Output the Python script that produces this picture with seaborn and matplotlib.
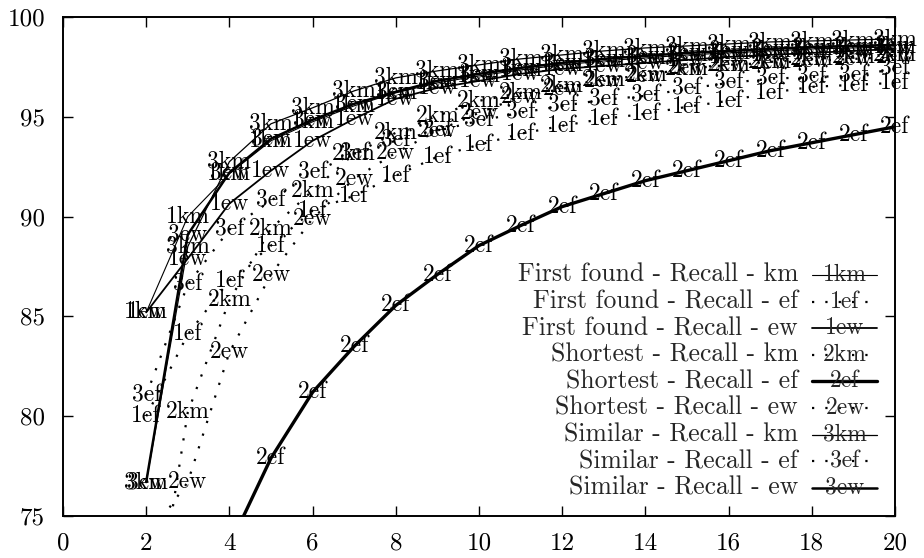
import matplotlib
matplotlib.use("Agg")
import matplotlib.pyplot as plt
import pandas as pd
import seaborn as sns

# Number of candidates considered (x axis)
steps = list(range(2, 21))
steps_short_ef = list(range(4, 21))

# Recall (%) per method and clustering variant
first_km = [85.2, 90.0, 92.15, 93.8, 94.75, 95.55, 96.2, 96.7, 97.05, 97.35,
            97.6, 97.8, 97.95, 98.1, 98.2, 98.3, 98.4, 98.45, 98.5]
first_ef = [80.0, 84.1, 86.8, 88.55, 90.3, 91.05, 92.05, 93.0, 93.6, 94.15,
            94.55, 94.9, 95.15, 95.5, 95.8, 96.2, 96.5, 96.6, 96.7]
first_ew = [85.2, 87.9, 90.65, 92.3, 93.8, 94.9, 95.9, 96.45, 96.8, 97.15,
            97.4, 97.55, 97.7, 97.85, 98.0, 98.1, 98.2, 98.3, 98.4]
short_km = [67.0, 80.2, 85.8, 89.4, 91.3, 93.15, 94.2, 95.05, 95.8, 96.2,
            96.55, 96.85, 97.1, 97.4, 97.6, 97.75, 97.9, 98.0, 98.1]
short_ef = [73.5, 77.9, 81.2, 83.5, 85.55, 87.1, 88.55, 89.55, 90.5, 91.15,
            91.8, 92.3, 92.8, 93.3, 93.7, 94.1, 94.5]
short_ew = [73.8, 76.7, 83.2, 87.1, 89.9, 91.9, 93.2, 94.3, 95.2, 96.0,
            96.4, 96.8, 97.05, 97.45, 97.6, 97.7, 97.8, 97.9, 98.0]
sim_km = [76.7, 88.5, 92.75, 94.65, 95.45, 96.3, 96.95, 97.3, 97.6, 97.9,
          98.1, 98.3, 98.45, 98.55, 98.65, 98.75, 98.8, 98.85, 98.9]
sim_ef = [81.05, 86.6, 89.35, 90.8, 92.2, 93.15, 93.8, 94.3, 94.8, 95.2,
          95.55, 95.85, 96.05, 96.4, 96.7, 96.9, 97.0, 97.05, 97.4]
sim_ew = [76.7, 89.1, 92.2, 93.9, 94.85, 95.65, 96.25, 96.8, 97.15, 97.45,
          97.7, 97.9, 98.05, 98.2, 98.3, 98.4, 98.5, 98.55, 98.6]

series_names = [
    "First found - Recall - km", "First found - Recall - ef", "First found - Recall - ew",
    "Shortest - Recall - km", "Shortest - Recall - ef", "Shortest - Recall - ew",
    "Similar - Recall - km", "Similar - Recall - ef", "Similar - Recall - ew",
]
point_codes = ["1km", "1ef", "1ew", "2km", "2ef", "2ew", "3km", "3ef", "3ew"]
series_x = [steps, steps, steps, steps, steps_short_ef, steps, steps, steps, steps]
series_y = [first_km, first_ef, first_ew, short_km, short_ef, short_ew, sim_km, sim_ef, sim_ew]

x_ticks = [0, 2, 4, 6, 8, 10, 12, 14, 16, 18, 20]
y_ticks = [75, 80, 85, 90, 95, 100]
X_RANGE = (0, 20)
Y_RANGE = (75, 100)

DOT = (0, (1, 5))
styles = {
    "1km": dict(lw=0.8, ls="-"),
    "1ef": dict(lw=1.6, ls=DOT),
    "1ew": dict(lw=1.3, ls="-"),
    "2km": dict(lw=1.6, ls=DOT),
    "2ef": dict(lw=2.4, ls="-"),
    "2ew": dict(lw=1.6, ls=DOT),
    "3km": dict(lw=0.9, ls="-"),
    "3ef": dict(lw=1.6, ls=DOT),
    "3ew": dict(lw=1.8, ls="-"),
}

frames = []
for name, code, xs, ys in zip(series_names, point_codes, series_x, series_y):
    frames.append(pd.DataFrame({"step": xs, "recall": ys, "series": name, "code": code}))
data = pd.concat(frames, ignore_index=True)

sns.set_style("ticks")
plt.rcParams["font.family"] = ["cmr10", "DejaVu Serif"]
plt.rcParams["axes.formatter.use_mathtext"] = True

FS = 17
KEY_FS = 18.5
fig = plt.figure(figsize=(9.24, 5.58), dpi=100)
ax = fig.add_axes([63 / 924, 1 - 516 / 558, 832 / 924, 499 / 558])

for code in point_codes:
    sub = data[data["code"] == code]
    st = styles[code]
    sns.lineplot(data=sub, x="step", y="recall", ax=ax, color="black",
                 estimator=None, sort=False, legend=False,
                 linewidth=st["lw"], linestyle=st["ls"])
    # point codes are drawn only for points inside the plotted range
    shown = sub[(sub["recall"] >= Y_RANGE[0]) & (sub["recall"] <= Y_RANGE[1])]
    for xv, yv in zip(shown["step"], shown["recall"]):
        ax.text(xv, yv, code, ha="center", va="center", fontsize=FS,
                color="black", clip_on=False)

ax.set_xlim(*X_RANGE)
ax.set_ylim(*Y_RANGE)
ax.set_xticks(x_ticks)
ax.set_yticks(y_ticks)
ax.set_xticklabels([str(v) for v in x_ticks])
ax.set_yticklabels([str(v) for v in y_ticks])
ax.set_xlabel("")
ax.set_ylabel("")
ax.tick_params(direction="in", length=7, width=1.0, top=True, right=True,
               labelsize=FS + 1, colors="black")
ax.tick_params(axis="x", pad=12)
ax.tick_params(axis="y", pad=13)
for sp in ax.spines.values():
    sp.set_visible(True)
    sp.set_linewidth(1.4)
    sp.set_color("black")

# Key: right-aligned titles with a short line sample carrying the point code
def fx(px):
    return (px - 63) / 832

def fy(py):
    return (516 - py) / 499

for i, (name, code) in enumerate(zip(series_names, point_codes)):
    py = 275 + 26.6 * i
    st = styles[code]
    ax.text(fx(798), fy(py), name, ha="right", va="center",
            fontsize=KEY_FS, transform=ax.transAxes)
    ax.plot([fx(812), fx(877)], [fy(py), fy(py)], color="black",
            lw=st["lw"], ls=st["ls"], transform=ax.transAxes)
    ax.text(fx(845), fy(py), code, ha="center", va="center", fontsize=FS,
            transform=ax.transAxes)

fig.savefig("out.png", dpi=100, facecolor="white")
